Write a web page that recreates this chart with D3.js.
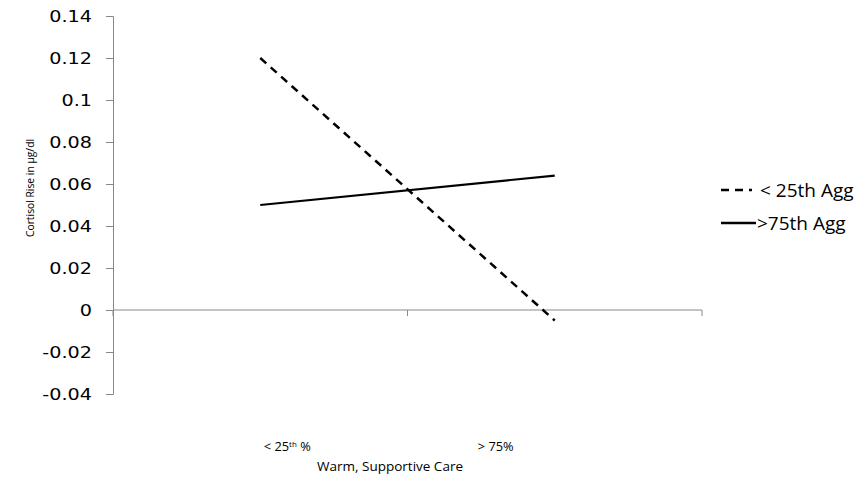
<!DOCTYPE html>
<html>
<head>
<meta charset="utf-8">
<script src="https://cdn.jsdelivr.net/npm/d3@7"></script>
<style>
  body { margin: 0; background: #fff; }
  svg text { font-family: "Open Sans", sans-serif; fill: #000; }
</style>
</head>
<body>
<script>
const categories = ["< 25th %", "> 75%"];
const seriesNames = ["< 25th Agg", ">75th Agg"];
const lowAgg = [0.12, -0.005];
const highAgg = [0.05, 0.064];
const yTicks = [-0.04, -0.02, 0, 0.02, 0.04, 0.06, 0.08, 0.1, 0.12, 0.14];

const width = 867, height = 481;
const margin = {top: 16, right: 165, bottom: 87, left: 113};

const svg = d3.select("body").append("svg").attr("width", width).attr("height", height);

const x = d3.scalePoint().domain(categories).range([margin.left, width - margin.right]).padding(0.5);
const y = d3.scaleLinear().domain([-0.04, 0.14]).range([height - margin.bottom, margin.top]);

// y axis
const yAxis = svg.append("g")
  .attr("transform", "translate(" + margin.left + ",0)")
  .call(d3.axisLeft(y).tickValues(yTicks).tickSize(7).tickFormat(d => String(+d.toFixed(2))));
yAxis.select(".domain").attr("stroke", "#888");
yAxis.selectAll(".tick line").attr("stroke", "#888");
yAxis.selectAll(".tick text")
  .attr("x", 0)
  .attr("transform", "translate(-21,0) scale(1.2,1)")
  .attr("font-size", 16)
  .style("font-family", "'DejaVu Sans', sans-serif");

// x axis at zero
const step = x.step();
const xAxisG = svg.append("g").attr("transform", "translate(0," + y(0) + ")");
xAxisG.append("line").attr("x1", margin.left).attr("x2", width - margin.right).attr("stroke", "#888");
xAxisG.selectAll(".xt").data([0, 1, 2]).enter().append("line")
  .attr("x1", d => margin.left + d * step).attr("x2", d => margin.left + d * step)
  .attr("y1", 0).attr("y2", 6).attr("stroke", "#888");

// category labels
const labelOffsets = [27, -59];
svg.selectAll(".catlab").data(categories).enter().append("text")
  .attr("x", (d, i) => x(d) + labelOffsets[i])
  .attr("y", 451)
  .attr("text-anchor", "middle")
  .attr("font-size", 12.8)
  .each(function(d) {
    const t = d3.select(this);
    if (d === "< 25th %") {
      t.append("tspan").text("< 25");
      t.append("tspan").text("th").attr("font-size", 8).attr("dy", -4);
      t.append("tspan").text(" %").attr("dy", 4);
    } else {
      t.text(d);
    }
  });

svg.append("text").attr("x", 390).attr("y", 471).attr("text-anchor", "middle")
  .attr("font-size", 13.5).text("Warm, Supportive Care");

svg.append("text")
  .attr("transform", "translate(34," + 188 + ") rotate(-90)")
  .attr("text-anchor", "middle").attr("font-size", 10.3).text("Cortisol Rise in \u00b5g/dl");

const line = d3.line().x((d, i) => x(categories[i])).y(d => y(d));

svg.append("path").datum(lowAgg).attr("d", line)
  .attr("fill", "none").attr("stroke", "#000").attr("stroke-width", 2.5).attr("stroke-dasharray", "8,6");
svg.append("path").datum(highAgg).attr("d", line)
  .attr("fill", "none").attr("stroke", "#000").attr("stroke-width", 2.2);

// legend
const legend = svg.append("g").attr("transform", "translate(720,190)");
const dashes = ["8,6", null];
seriesNames.forEach((name, i) => {
  const g = legend.append("g").attr("transform", "translate(0," + i * 33 + ")");
  g.append("line").attr("x1", 1).attr("x2", i ? 36 : 32).attr("stroke", "#000").attr("stroke-width", 2.5)
    .attr("stroke-dasharray", dashes[i]);
  g.append("text").attr("x", i ? 37 : 40).attr("y", 7).attr("font-size", 19).text(name);
});
</script>
</body>
</html>
